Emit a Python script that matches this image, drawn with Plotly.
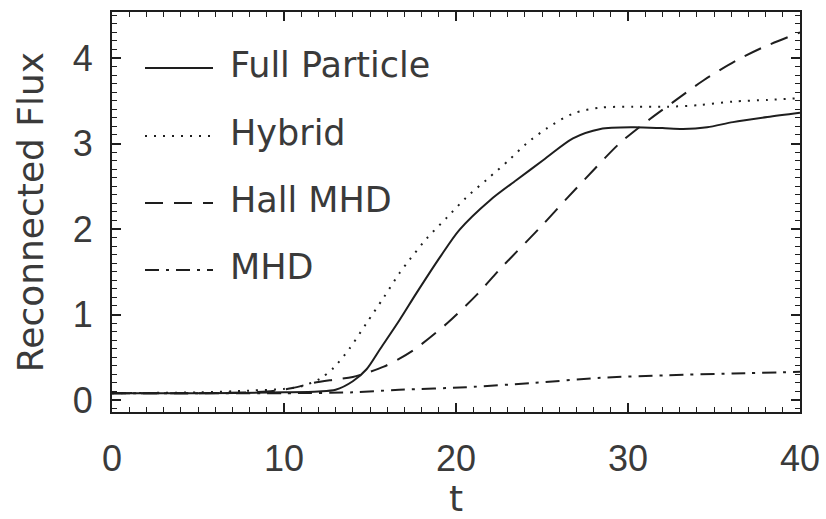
import plotly.graph_objects as go

# ---- data ----
t_full = [0, 5, 10, 12, 13, 14, 14.8, 15.6, 16.7, 17.7, 19.1, 20.2, 22.0, 23.5, 25.1, 26.8, 28.4, 30.3, 32.0, 33.2, 34.6, 36.1, 38.1, 40]
v_full = [0.08, 0.08, 0.09, 0.10, 0.12, 0.22, 0.36, 0.60, 0.93, 1.25, 1.68, 1.99, 2.34, 2.57, 2.81, 3.06, 3.17, 3.19, 3.18, 3.17, 3.19, 3.25, 3.31, 3.36]

t_hybrid = [0, 5, 8, 10, 11, 12.1, 12.9, 13.8, 14.8, 15.8, 16.7, 17.3, 18.3, 19.5, 20.6, 21.8, 23.1, 24.1, 25.3, 26.8, 28.4, 30.3, 32.3, 34.2, 36.1, 38.1, 40]
v_hybrid = [0.08, 0.09, 0.11, 0.13, 0.16, 0.25, 0.38, 0.60, 0.90, 1.20, 1.48, 1.64, 1.89, 2.14, 2.37, 2.58, 2.81, 3.00, 3.18, 3.35, 3.42, 3.43, 3.43, 3.45, 3.49, 3.51, 3.53]

t_hall = [0, 5, 9, 10.5, 11.7, 13, 14, 15.8, 17.5, 19.5, 21.2, 22.6, 24.9, 26.5, 28, 29.5, 31.3, 32.8, 34.4, 36.3, 37.8, 40]
v_hall = [0.08, 0.08, 0.10, 0.14, 0.20, 0.24, 0.27, 0.39, 0.58, 0.90, 1.23, 1.54, 2.02, 2.37, 2.69, 3.00, 3.29, 3.51, 3.74, 3.97, 4.12, 4.30]

t_mhd = [0, 5, 10, 14, 16.7, 20.6, 24.5, 28.4, 32.3, 36.1, 40]
v_mhd = [0.08, 0.08, 0.08, 0.09, 0.12, 0.15, 0.20, 0.26, 0.29, 0.31, 0.33]

series_names = ["Full Particle", "Hybrid", "Hall MHD", "MHD"]
series_dash = ["solid", "2px,7px", "18px,11px", "14px,7px,3px,7px"]

x_ticks = [0, 10, 20, 30, 40]
y_ticks = [0, 1, 2, 3, 4]

# ---- layout geometry ----
W, H = 826, 519
ML, MR, MT, MB = 112, 26, 12, 107
PW, PH = W - ML - MR, H - MT - MB
INK = "#1e1e1e"
TEXT = "#3a3a3a"

def px_to_paper(px, py):
    return (px - ML) / PW, (H - MB - py) / PH

fig = go.Figure()
data = [(t_full, v_full), (t_hybrid, v_hybrid), (t_hall, v_hall), (t_mhd, v_mhd)]
for (tt, vv), name, dash in zip(data, series_names, series_dash):
    fig.add_trace(go.Scatter(x=tt, y=vv, mode="lines", name=name,
                             line=dict(color=INK, width=2, dash=dash, shape="spline", smoothing=0.8),
                             showlegend=False, hoverinfo="skip"))

# manual legend (IDL style)
row_y = [68, 136, 203, 270]
shapes = []
annotations = []
for name, dash, ry in zip(series_names, series_dash, row_y):
    x0, y0 = px_to_paper(145, ry)
    x1, _ = px_to_paper(213, ry)
    shapes.append(dict(type="line", xref="paper", yref="paper", x0=x0, x1=x1, y0=y0, y1=y0,
                       line=dict(color=INK, width=2, dash=dash)))
    tx, ty = px_to_paper(228, ry - 3)
    annotations.append(dict(xref="paper", yref="paper", x=tx, y=ty, xanchor="left", yanchor="middle",
                            text=name, showarrow=False,
                            font=dict(family="DejaVu Sans", size=35, color=TEXT)))

y_bottom, y_top = -0.140, 4.538

fig.update_layout(
    width=W, height=H,
    margin=dict(l=ML, r=MR, t=MT, b=MB, pad=0, autoexpand=False),
    paper_bgcolor="white", plot_bgcolor="white",
    shapes=shapes, annotations=annotations,
    xaxis=dict(range=[0, 40], tickvals=x_ticks, ticktext=[str(v) for v in x_ticks],
               automargin=False,
               showgrid=False, zeroline=False, showline=True, linecolor=INK, linewidth=2,
               mirror="allticks", ticks="inside", ticklen=9, tickwidth=1.5, tickcolor=INK,
               minor=dict(dtick=1, ticks="inside", ticklen=5, tickwidth=1, tickcolor=INK),
               ticklabelstandoff=14,
               tickfont=dict(family="Liberation Sans", size=36, color=TEXT),
               title=dict(text="t", standoff=18, font=dict(family="DejaVu Sans", size=36, color=TEXT))),
    yaxis=dict(range=[y_bottom, y_top], tickvals=y_ticks, ticktext=[str(v) for v in y_ticks],
               automargin=False,
               showgrid=False, zeroline=False, showline=True, linecolor=INK, linewidth=2,
               mirror="allticks", ticks="inside", ticklen=9, tickwidth=1.5, tickcolor=INK,
               minor=dict(dtick=0.1, tick0=0, ticks="inside", ticklen=5, tickwidth=1, tickcolor=INK),
               ticklabelstandoff=10,
               tickfont=dict(family="Liberation Sans", size=36, color=TEXT),
               title=dict(text="Reconnected Flux", standoff=18,
                          font=dict(family="DejaVu Sans", size=36, color=TEXT))),
)

fig.write_html("out.html")
